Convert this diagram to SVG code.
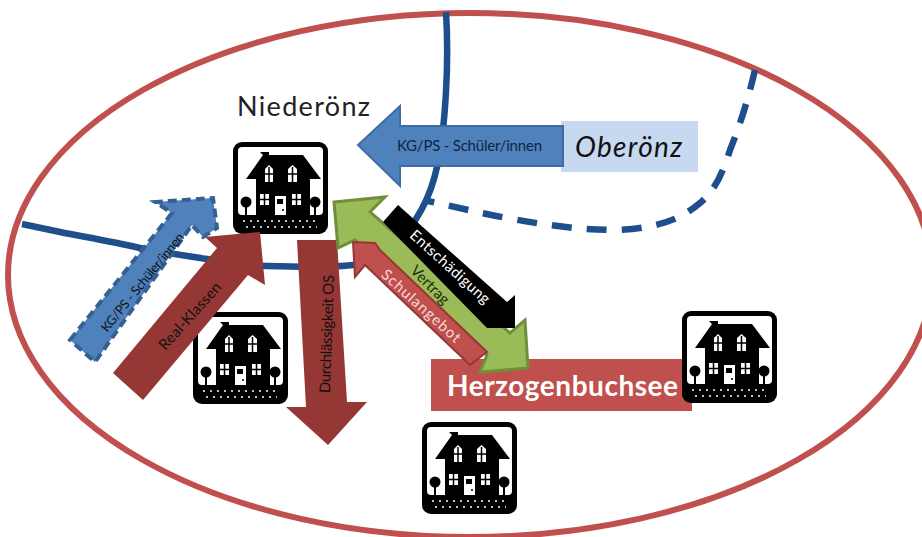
<svg xmlns="http://www.w3.org/2000/svg" width="922" height="537" viewBox="0 0 922 537">
<style>
text{font-family:Lato,"Open Sans",sans-serif}
.road{fill:none;stroke:#1f4e8c;stroke-width:6.500}
.ln{font-size:15px;text-anchor:middle}
.w{fill:#fff}
.b{fill:#000}
</style>
<defs>
<g id="house">
<rect x="0" y="0" width="95" height="92" rx="9" fill="#000"/>
<rect x="5" y="5" width="85" height="68" rx="4" fill="#fff"/>
<path class="b" d="M27 10H36V13H70L88 37H77V73H23V37H13L30 13Z"/>
<path class="w" d="M32 40V27L36 23L40 27V40ZM55 40V27L59.500 23L64 27V40Z"/>
<path d="M36 25V40M32 32H40M59.500 25V40M55 32H64" stroke="#000" stroke-width="1.500"/>
<rect class="w" x="27" y="52" width="9" height="11"/>
<rect class="w" x="59" y="52" width="9" height="11"/>
<path d="M31.500 52V63M27 57.500H36M63.500 52V63M59 57.500H68" stroke="#000" stroke-width="1.500"/>
<rect class="w" x="42" y="54" width="11" height="19"/>
<rect class="b" x="44" y="57" width="6" height="5"/>
<circle class="b" cx="50" cy="68" r="1"/>
<circle class="b" cx="13" cy="60" r="5.500"/><rect class="b" x="12" y="60" width="2" height="13"/>
<circle class="b" cx="82" cy="60" r="5.500"/><rect class="b" x="81" y="60" width="2" height="13"/>
<path d="M10 79H86M13 85H84" stroke="#fff" stroke-width="1.500" stroke-dasharray="2 5"/>
</g>
</defs>
<rect width="922" height="537" fill="#fff"/>
<ellipse id="boundary" cx="470" cy="275" rx="462" ry="262" fill="none" stroke="#c0504d" stroke-width="6"/>
<g id="roads">
<path class="road" d="M446 12C449 60 446 125 437 167C430 200 415 225 395 245C380 258 365 264 353 265C330 268 298 267 267 266C245 265 225 262 207 259C180 255 160 252 140 248C110 241 85 237 60 232L22 224"/>
<path class="road" stroke-dasharray="20 15" d="M755 70C748 100 740 125 730 150C722 175 715 190 700 203C680 220 657 228 617 230C580 230 545 225 507 218C480 213 460 208 428 201"/>
</g>
<g id="oberoenz"><rect x="561" y="121" width="137" height="51" fill="#c6d9f1"/><text x="575" y="157" font-size="28" font-style="italic" fill="#111" textLength="107">Oberönz</text></g>
<g id="herzogen"><rect x="431" y="359" width="261" height="52" fill="#c0504d"/><text x="447" y="396" font-size="28" font-weight="700" fill="#fff" textLength="231">Herzogenbuchsee</text></g>
<g id="niederoenz"><text x="237" y="116" font-size="27" fill="#222" textLength="133">Niederönz</text><use href="#house" x="233" y="142"/></g>
<g id="house-west"><use href="#house" x="193" y="312"/></g>
<g id="house-east"><use href="#house" x="682" y="311"/></g>
<g id="house-south"><use href="#house" x="422" y="422"/></g>
<g id="connectors">
<g id="a-kg-top"><path d="M563 126H400V106L358 145L400 186V166H563Z" fill="#4f81bd" stroke="#3f6da3" stroke-width="2"/><text x="397" y="151" font-size="15" fill="#10253f" textLength="145">KG/PS - Schüler/innen</text></g>
<g id="a-kg-left"><path d="M70 340L172 213L155 202L213 198L217 228L203 237L192 225L95 362Z" fill="#4f81bd" stroke="#376092" stroke-width="4" stroke-dasharray="9 5"/><text transform="translate(142 282) rotate(-51)" y="5" font-size="13" text-anchor="middle" fill="#111" textLength="123">KG/PS - Schüler/innen</text></g>
<g id="a-real"><path d="M113 373L217 248L205 237L260 232L265 285L248 275L143 400Z" fill="#953735"/><text transform="translate(190 316) rotate(-48)" y="5" class="ln" fill="#111" textLength="85">Real-Klassen</text></g>
<g id="a-durch"><path d="M297 240H337L347 402H367L328 445L286 407H306Z" fill="#953735"/><text transform="translate(327 334) rotate(-88)" y="5" class="ln" fill="#111" textLength="118">Durchlässigkeit OS</text></g>
<g id="a-vertrag"><path d="M334 202L385 197L370 212L510 333L525 320L528 368L480 372L487 355L355 240L338 248Z" fill="#9bbb59" stroke="#6f8f3a" stroke-width="3"/><text transform="translate(430 285) rotate(45)" y="5" class="ln" fill="#1d2b0a" textLength="48">Vertrag</text></g>
<g id="a-ent"><path d="M383 222L398 205L507 302L515 295V328H487Z" fill="#000"/><text transform="translate(450 267) rotate(42)" y="5" class="ln" fill="#fff" textLength="102">Entschädigung</text></g>
<g id="a-schul"><path d="M353 242L375 243L380 250L487 352L470 365L365 265L355 277Z" fill="#c0504d" stroke="#953735" stroke-width="2"/><text transform="translate(421 306) rotate(42)" y="5" class="ln" fill="#f6d9d5" textLength="101">Schulangebot</text></g>
</g>
</svg>
